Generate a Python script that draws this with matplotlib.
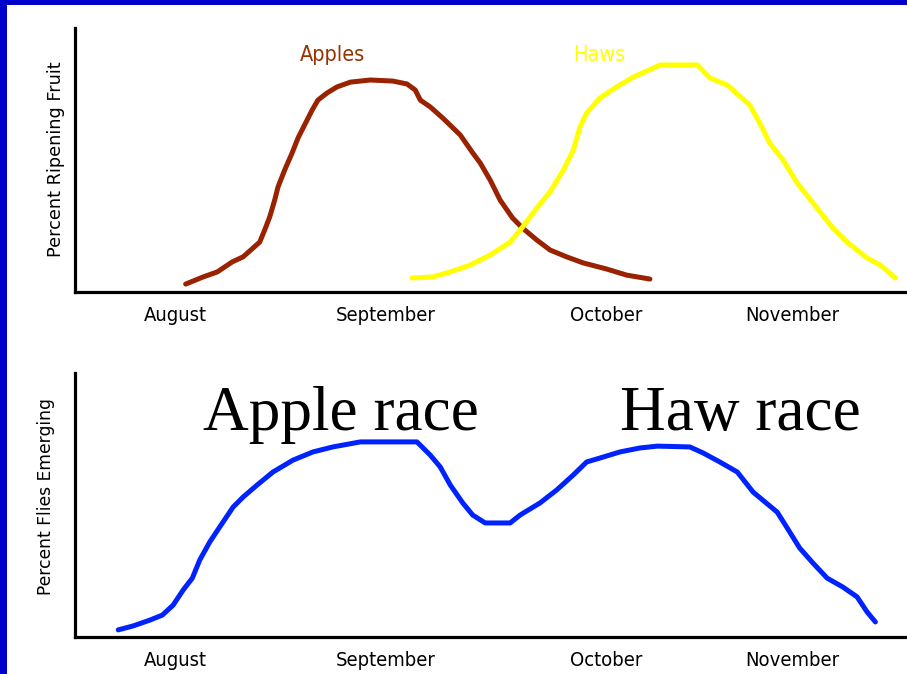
import matplotlib
matplotlib.use("Agg")
import matplotlib.pyplot as plt
from matplotlib.patches import Rectangle

# ---------------- data (x: % of time axis, y: % of axis height) ----------------
months = ["August", "September", "October", "November"]
month_pos = [12.1, 37.3, 63.9, 86.2]

apples_x = [13.3, 15.4, 17.1, 18.9, 20.2, 22.2, 22.8, 23.4, 24.0, 24.4, 25.2, 26.1,
            26.8, 27.6, 28.5, 29.2, 30.3, 31.5, 33.1, 35.5, 38.2, 39.9, 40.9, 41.5,
            42.7, 44.2, 46.3, 47.8, 48.7, 49.9, 51.1, 52.6, 53.8, 55.5, 57.1, 59.1,
            61.1, 63.9, 66.3, 69.1]
apples_y = [3.0, 5.7, 7.6, 11.4, 13.3, 18.9, 23.5, 28.4, 34.8, 39.8, 46.2, 52.7,
            58.3, 63.3, 68.9, 72.7, 75.4, 77.7, 79.5, 80.3, 79.9, 78.8, 76.5, 72.7,
            70.1, 65.9, 59.5, 52.7, 48.9, 42.4, 34.8, 28.0, 24.2, 19.7, 15.9, 13.3,
            11.0, 8.7, 6.4, 4.9]

haws_x = [40.5, 43.0, 45.1, 47.5, 49.9, 52.3, 53.8, 55.5, 57.1, 58.7, 59.9, 60.7,
          61.5, 63.1, 65.1, 67.1, 69.5, 70.3, 74.8, 76.3, 78.4, 81.1, 82.3, 83.5,
          85.1, 86.8, 88.7, 91.1, 92.8, 95.2, 96.8, 98.6]
haws_y = [5.3, 5.7, 7.6, 10.2, 14.0, 18.9, 24.6, 31.8, 37.9, 46.2, 53.8, 62.5,
          67.8, 73.5, 77.7, 81.4, 84.8, 86.0, 86.0, 81.1, 78.4, 70.8, 64.0, 56.4,
          50.0, 41.3, 33.7, 24.2, 18.9, 12.9, 10.2, 5.3]

flies_x = [5.2, 7.0, 9.0, 10.5, 11.8, 13.0, 14.1, 15.0, 16.2, 17.4, 19.0, 20.2,
           21.9, 23.8, 26.2, 28.6, 31.0, 34.3, 41.1, 42.7, 43.9, 45.1, 46.6, 47.8,
           49.3, 52.3, 53.5, 55.9, 57.9, 59.9, 61.5, 63.1, 65.5, 67.9, 70.0, 73.9,
           75.5, 77.5, 79.6, 81.5, 84.4, 85.6, 87.1, 88.7, 90.4, 92.3, 94.0, 95.2,
           96.2]
flies_y = [2.7, 4.2, 6.4, 8.3, 12.1, 17.8, 22.3, 29.2, 36.0, 41.7, 49.2, 53.0,
           57.6, 62.5, 67.0, 70.1, 72.0, 73.9, 73.9, 68.9, 64.4, 57.6, 50.8, 46.2,
           43.2, 43.2, 46.2, 50.8, 55.7, 61.4, 66.3, 67.8, 70.1, 71.6, 72.3, 72.0,
           69.7, 66.3, 62.5, 54.9, 47.3, 41.3, 33.7, 28.0, 22.3, 18.9, 15.2, 9.5,
           5.7]

W, H = 907, 674
fig = plt.figure(figsize=(W / 100, H / 100), dpi=100)
fig.patch.set_facecolor("white")

def fx(px):
    return px / W

def fy(py):
    return 1 - py / H

# blue frame
fig.patches.append(Rectangle((0, 0), fx(7), 1, transform=fig.transFigure,
                             facecolor="#0000CC", edgecolor="none", zorder=0))
fig.patches.append(Rectangle((0, fy(5)), 1, 1, transform=fig.transFigure,
                             facecolor="#0000CC", edgecolor="none", zorder=0))

tick_font = dict(family="DejaVu Sans", size=14.5, fontstretch="condensed")

def setup(ax):
    ax.set_xlim(0, 100)
    ax.set_ylim(0, 100)
    for s in ("top", "right"):
        ax.spines[s].set_visible(False)
    for s in ("left", "bottom"):
        ax.spines[s].set_linewidth(2.3)
        ax.spines[s].set_color("black")
    ax.set_yticks([])
    ax.set_xticks(month_pos)
    ax.set_xticklabels(months, **tick_font)
    ax.tick_params(axis="x", length=0, pad=10)
    ax.patch.set_alpha(0)

ax1 = fig.add_axes([fx(75), fy(292), fx(832), 264 / H])
setup(ax1)
ax1.plot(apples_x, apples_y, color="#992200", lw=3.6, solid_capstyle="round",
         solid_joinstyle="round")
ax1.plot(haws_x, haws_y, color="#FFFF00", lw=3.6, solid_capstyle="round",
         solid_joinstyle="round")

ax2 = fig.add_axes([fx(75), fy(637), fx(832), 264 / H])
setup(ax2)
ax2.plot(flies_x, flies_y, color="#0022FF", lw=3.6, solid_capstyle="round",
         solid_joinstyle="round")

# labels
fig.text(fx(56), fy(159), "Percent Ripening Fruit", rotation=90, ha="center",
         va="center", fontsize=12.7, family="DejaVu Sans")
fig.text(fx(46), fy(497), "Percent Flies Emerging", rotation=90, ha="center",
         va="center", fontsize=12.3, family="DejaVu Sans")

fig.text(fx(332), fy(55), "Apples", ha="center", va="center", fontsize=15.5,
         color="#993300", family="DejaVu Sans", fontstretch="condensed")
fig.text(fx(599), fy(55), "Haws", ha="center", va="center", fontsize=15.5,
         color="#FFFF00", family="DejaVu Sans", fontstretch="condensed")

fig.text(fx(341), fy(430), "Apple race", ha="center", va="baseline",
         fontsize=45.5, family="Liberation Serif", color="black")
fig.text(fx(740), fy(430), "Haw race", ha="center", va="baseline",
         fontsize=45.5, family="Liberation Serif", color="black")

fig.savefig("out.png", dpi=100, facecolor="white")
